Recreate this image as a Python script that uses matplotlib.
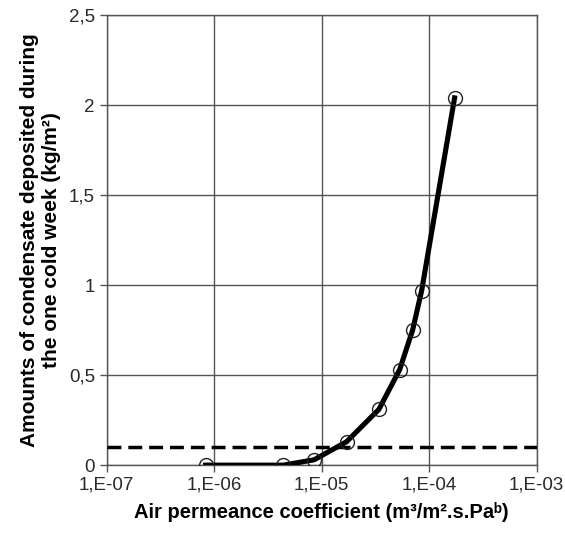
import matplotlib
matplotlib.use("Agg")
import matplotlib.pyplot as plt
from matplotlib.ticker import FixedLocator

plt.rcParams['font.family'] = ['Liberation Sans', 'DejaVu Sans']

permeance = [8.3e-7, 4.4e-6, 8.5e-6, 1.7e-5, 3.4e-5, 5.3e-5, 7.0e-5, 8.5e-5, 1.72e-4]
condensate = [0.0, 0.0, 0.03, 0.13, 0.31, 0.53, 0.75, 0.97, 2.04]
threshold = 0.1
x_ticks = [1e-7, 1e-6, 1e-5, 1e-4, 1e-3]
x_tick_labels = ['1,E-07', '1,E-06', '1,E-05', '1,E-04', '1,E-03']
y_ticks = [0, 0.5, 1, 1.5, 2, 2.5]
y_tick_labels = ['0', '0,5', '1', '1,5', '2', '2,5']

fig = plt.figure(figsize=(5.65, 5.39), dpi=100)
ax = fig.add_axes([0.189, 0.137, 0.761, 0.835])

ax.set_xscale('log')
ax.set_xlim(1e-7, 1e-3)
ax.set_ylim(0, 2.5)
ax.set_xticks(x_ticks)
ax.set_xticklabels(x_tick_labels)
ax.xaxis.set_minor_locator(FixedLocator([]))
ax.set_yticks(y_ticks)
ax.set_yticklabels(y_tick_labels)
ax.grid(True, color='#555555', linewidth=1.0)
ax.set_axisbelow(True)
for s in ax.spines.values():
    s.set_color('#555555')
    s.set_linewidth(1.0)
ax.tick_params(axis='both', colors='#555555', labelcolor='#2a2a2a', labelsize=13.5, length=5, width=1)

ax.axhline(threshold, color='black', linestyle=(0, (4, 2)), linewidth=2.5, zorder=3)
ax.plot(permeance, condensate, color='black', linewidth=3.7, zorder=4)
ax.plot(permeance, condensate, linestyle='none', marker='o', markersize=10,
        markerfacecolor='none', markeredgecolor='#222222', markeredgewidth=1.0, zorder=5)

ax.set_xlabel('Air permeance coefficient (m³/m².s.Paᵇ)', fontsize=14.5, fontweight='bold', labelpad=6)
ax.set_ylabel('Amounts of condensate deposited during\nthe one cold week (kg/m²)', fontsize=15, fontweight='bold', labelpad=6)

fig.savefig('out.png', dpi=100)
